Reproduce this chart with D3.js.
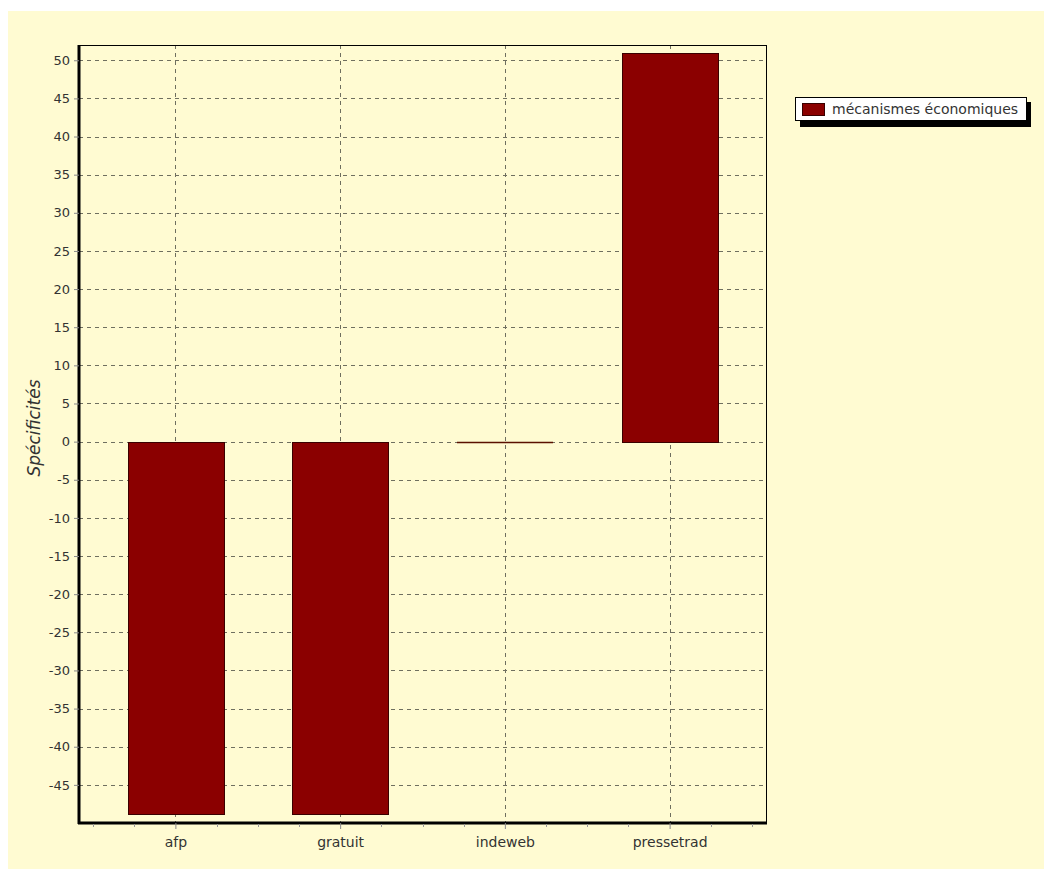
<!DOCTYPE html>
<html><head><meta charset="utf-8">
<script src="https://cdn.jsdelivr.net/npm/d3@7"></script>
<style>html,body{margin:0;padding:0;background:#fff;}svg{display:block;}</style>
</head><body>
<script>
const categories = ["afp", "gratuit", "indeweb", "pressetrad"];
const values = [-48.8, -48.8, 0, 51];
const seriesName = "mécanismes économiques";
const yTicks = [50,45,40,35,30,25,20,15,10,5,0,-5,-10,-15,-20,-25,-30,-35,-40,-45];
const yTitle = "Spécificités";

const W = 1051, H = 880;
const bg = "#fffbd2";
const barColor = "#8b0000";
const FONT = "'DejaVu Sans', Verdana, sans-serif";
const svg = d3.select("body").append("svg").attr("width", W).attr("height", H)
  .style("font-family", FONT);

svg.append("rect").attr("x", 8).attr("y", 11).attr("width", 1036).attr("height", 858).attr("fill", bg);

const L = 79, R = 766, T = 45, B = 823;
const x = d3.scalePoint().domain(categories).range([L, R]).padding(0.585);
const y = d3.scaleLinear().domain([-50, 52]).range([B, T]);
const step = x.step();
const bw = step * 0.58;

const g = svg.append("g");
// gridlines
g.selectAll("line.hg").data(yTicks).join("line")
  .attr("x1", L).attr("x2", R).attr("y1", d => Math.round(y(d)) + 0.5).attr("y2", d => Math.round(y(d)) + 0.5)
  .attr("stroke", "#6f6f5f").attr("stroke-dasharray", "4,4").attr("stroke-width", 1);
g.selectAll("line.vg").data(categories).join("line")
  .attr("x1", d => Math.round(x(d)) + 0.5).attr("x2", d => Math.round(x(d)) + 0.5).attr("y1", T).attr("y2", B)
  .attr("stroke", "#6f6f5f").attr("stroke-dasharray", "4,4").attr("stroke-width", 1);

// bars
const data = categories.map((c, i) => ({ c, v: values[i] }));
g.selectAll("rect.bar").data(data.filter(d => d.v !== 0)).join("rect")
  .attr("x", d => Math.round(x(d.c) - bw / 2) + 0.5)
  .attr("width", Math.round(bw))
  .attr("y", d => Math.round(y(Math.max(0, d.v))) + 0.5)
  .attr("height", d => Math.abs(Math.round(y(d.v)) - Math.round(y(0))))
  .attr("fill", barColor).attr("stroke", "#3a0000").attr("stroke-width", 1);
// zero-height bars as a flat line
g.selectAll("line.zbar").data(data.filter(d => d.v === 0)).join("line")
  .attr("x1", d => Math.round(x(d.c) - bw / 2)).attr("x2", d => Math.round(x(d.c) + bw / 2))
  .attr("y1", d => Math.round(y(d.v)) + 0.5).attr("y2", d => Math.round(y(d.v)) + 0.5)
  .attr("stroke", "#5a1000").attr("stroke-width", 1.5);

// frame
svg.append("rect").attr("x", L + 0.5).attr("y", T + 0.5).attr("width", R - L).attr("height", B - T)
  .attr("fill", "none").attr("stroke", "#000").attr("stroke-width", 1);

// y axis
const yAxis = d3.axisLeft(y).tickValues(yTicks).tickSize(5).tickPadding(4).tickFormat(d => String(d));
const ya = svg.append("g").attr("transform", `translate(${L},0)`).call(yAxis);
ya.select(".domain").attr("stroke", "#000").attr("stroke-width", 3).attr("d", `M0,${T}V${B + 1}`);
ya.selectAll(".tick line").attr("stroke", "#888");
ya.selectAll(".tick text").attr("fill", "#333").style("font-size", "13px").style("font-family", FONT);

// x axis
const xAxis = d3.axisBottom(x).tickSize(6).tickPadding(8);
const xa = svg.append("g").attr("transform", `translate(0,${B})`).call(xAxis);
xa.select(".domain").attr("stroke", "#000").attr("stroke-width", 3).attr("d", `M${L - 1},0H${R + 1}`);
xa.selectAll(".tick line").attr("stroke", "#888");
xa.selectAll(".tick text").attr("fill", "#333").style("font-size", "14px").style("font-family", FONT);
// minor ticks at quarter steps
const minor = [];
categories.forEach(c => { [-2, -1, 1, 2].forEach(k => minor.push(x(c) + k * step / 4)); });
const minorU = Array.from(new Set(minor.map(v => Math.round(v)))).filter(v => v > L + 5 && v < R - 3);
xa.selectAll("line.minor").data(minorU).join("line")
  .attr("x1", d => d + 0.5).attr("x2", d => d + 0.5).attr("y1", 1).attr("y2", 4).attr("stroke", "#999");

// y title
svg.append("text").attr("transform", `translate(40,${(T + B) / 2 - 6}) rotate(-90)`)
  .attr("text-anchor", "middle").attr("fill", "#333").style("font-size", "17px").style("font-style", "italic")
  .text(yTitle);

// legend
const lg = svg.append("g");
lg.append("rect").attr("x", 800).attr("y", 102).attr("width", 231).attr("height", 25).attr("fill", "#000");
lg.append("rect").attr("x", 795.5).attr("y", 97.5).attr("width", 231).attr("height", 23).attr("fill", "#fff").attr("stroke", "#000");
lg.append("rect").attr("x", 802.5).attr("y", 103.5).attr("width", 22).attr("height", 12).attr("fill", barColor).attr("stroke", "#3a0000");
lg.append("text").attr("x", 832).attr("y", 114).attr("fill", "#333").style("font-size", "14px").text(seriesName);
</script>
</body></html>
